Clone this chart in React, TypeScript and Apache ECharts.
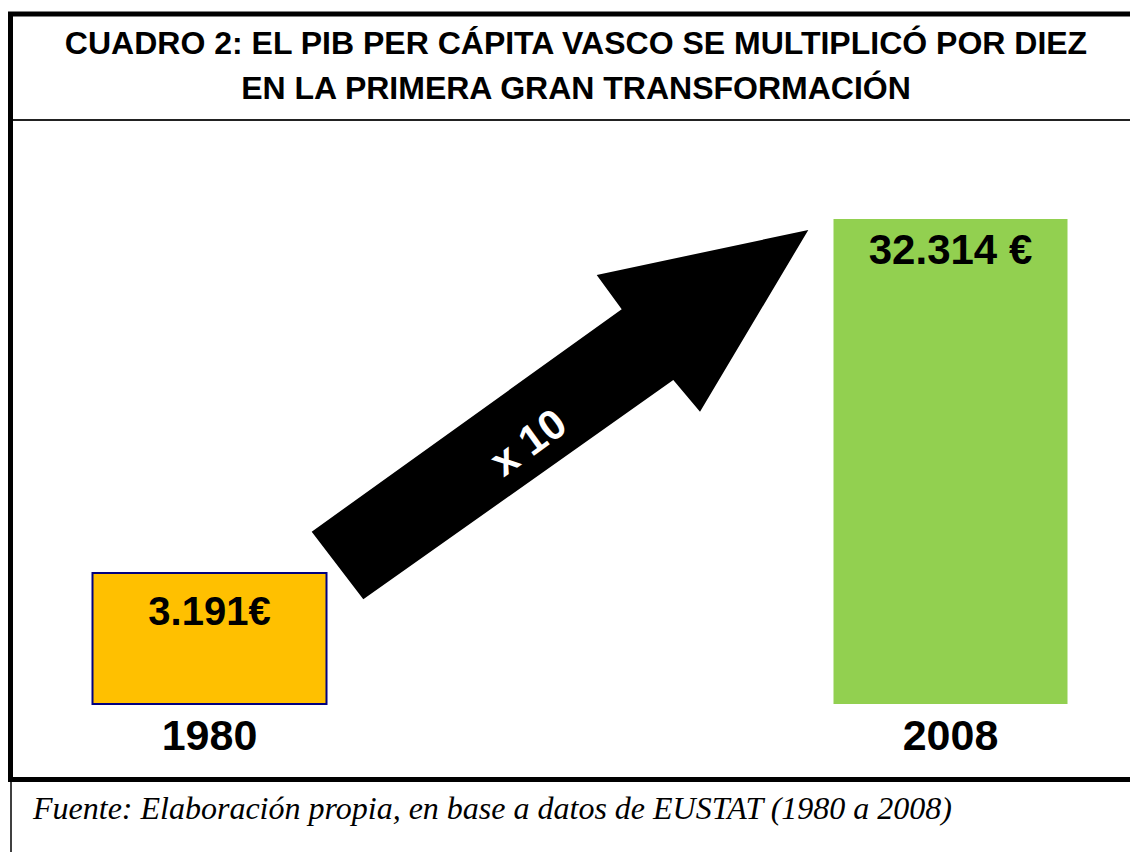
import React, { useEffect, useRef } from "react";
import * as echarts from "echarts";

const TITLE_LINES = [
  "CUADRO 2: EL PIB PER CÁPITA VASCO SE MULTIPLICÓ POR DIEZ",
  "EN LA PRIMERA GRAN TRANSFORMACIÓN",
];
const YEARS = ["1980", "2008"];
const VALUES = [3191, 32314];
const VALUE_SUFFIX = ["€", " €"];
const MULTIPLIER_LABEL = "x 10";
const SOURCE = "Fuente: Elaboración propia, en base a datos de EUSTAT (1980 a 2008)";

const BAR_FILLS = ["#FFC000", "#92D050"];
const BAR_STROKES = ["#000080", "#92D050"];
const BAR_STROKE_WIDTHS = [2, 0];
const LABEL_SIZES = [40, 42];
const LABEL_DISTANCES = [19, 9];
const Y_MIN = 1354;
const BAR_WIDTH = 234;

const SANS = "'Liberation Sans', Arial, Helvetica, sans-serif";
const SERIF = "'Liberation Serif', 'Times New Roman', serif";

function formatEs(v: number): string {
  const s = String(Math.round(v));
  return s.replace(/\B(?=(\d{3})+(?!\d))/g, ".");
}

export default function App() {
  const ref = useRef<HTMLDivElement>(null);
  useEffect(() => {
    if (!ref.current) return;
    const chart = echarts.init(ref.current, null, { renderer: "svg" });
    const option: any = {
      animation: false,
      backgroundColor: "#ffffff",
      title: {
        text: TITLE_LINES.join("\n"),
        left: 576,
        top: 20,
        padding: 0,
        textAlign: "center",
        textStyle: {
          fontFamily: SANS,
          fontWeight: "bold",
          fontSize: 32,
          lineHeight: 45,
          color: "#000",
        },
      },
      grid: { left: 209.5, right: 179.5, top: 219, bottom: 148 },
      xAxis: {
        type: "category",
        data: YEARS,
        boundaryGap: false,
        axisLine: { show: false },
        axisTick: { show: false },
        splitLine: { show: false },
        axisLabel: {
          margin: 9,
          fontFamily: SANS,
          fontWeight: "bold",
          fontSize: 43,
          color: "#000",
        },
      },
      yAxis: {
        type: "log",
        min: Y_MIN,
        max: Math.max(...VALUES),
        show: false,
        splitLine: { show: false },
      },
      series: [
        {
          type: "custom",
          clip: false,
          encode: { x: 0, y: 1 },
          data: VALUES.map((v, i) => [i, v]),
          renderItem: (params: any, api: any) => {
            const i = params.dataIndex;
            const idx = api.value(0);
            const val = api.value(1);
            const top = api.coord([idx, val]);
            const base = api.coord([idx, Y_MIN]);
            return {
              type: "rect",
              shape: {
                x: top[0] - BAR_WIDTH / 2,
                y: top[1],
                width: BAR_WIDTH,
                height: base[1] - top[1],
              },
              style: {
                fill: BAR_FILLS[i],
                stroke: BAR_STROKES[i],
                lineWidth: BAR_STROKE_WIDTHS[i],
              },
              textContent: {
                style: {
                  text: formatEs(val) + VALUE_SUFFIX[i],
                  fontFamily: SANS,
                  fontWeight: "bold",
                  fontSize: LABEL_SIZES[i],
                  fill: "#000",
                },
              },
              textConfig: { position: "insideTop", distance: LABEL_DISTANCES[i] },
            };
          },
        },
      ],
      graphic: [
        {
          type: "polygon",
          shape: {
            points: [
              [311.7, 531.7],
              [621.7, 309.3],
              [596.7, 275],
              [808.3, 230],
              [700, 411.7],
              [673.3, 380],
              [363.3, 599.3],
            ],
          },
          style: { fill: "#000" },
        },
        {
          type: "text",
          x: 528,
          y: 442,
          rotation: 0.63,
          style: {
            text: MULTIPLIER_LABEL,
            fill: "#fff",
            fontFamily: SANS,
            fontWeight: "bold",
            fontSize: 42,
            align: "center",
            verticalAlign: "middle",
          },
        },
        { type: "line", shape: { x1: 8, y1: 14, x2: 1130, y2: 14 }, style: { stroke: "#000", lineWidth: 5 } },
        { type: "line", shape: { x1: 10.5, y1: 12, x2: 10.5, y2: 782 }, style: { stroke: "#000", lineWidth: 5 } },
        { type: "line", shape: { x1: 13, y1: 120, x2: 1130, y2: 120 }, style: { stroke: "#222", lineWidth: 2 } },
        { type: "line", shape: { x1: 8, y1: 779.5, x2: 1130, y2: 779.5 }, style: { stroke: "#000", lineWidth: 5 } },
        { type: "line", shape: { x1: 11, y1: 782, x2: 11, y2: 852 }, style: { stroke: "#000", lineWidth: 1.5 } },
        {
          type: "text",
          x: 33,
          y: 808,
          style: {
            text: SOURCE,
            fill: "#000",
            fontFamily: SERIF,
            fontStyle: "italic",
            fontSize: 32,
            align: "left",
            verticalAlign: "middle",
          },
        },
      ],
    };
    chart.setOption(option);
    return () => chart.dispose();
  }, []);
  return (
    <div
      ref={ref}
      style={{ position: "fixed", left: 0, top: 0, width: 1130, height: 852 }}
    />
  );
}
